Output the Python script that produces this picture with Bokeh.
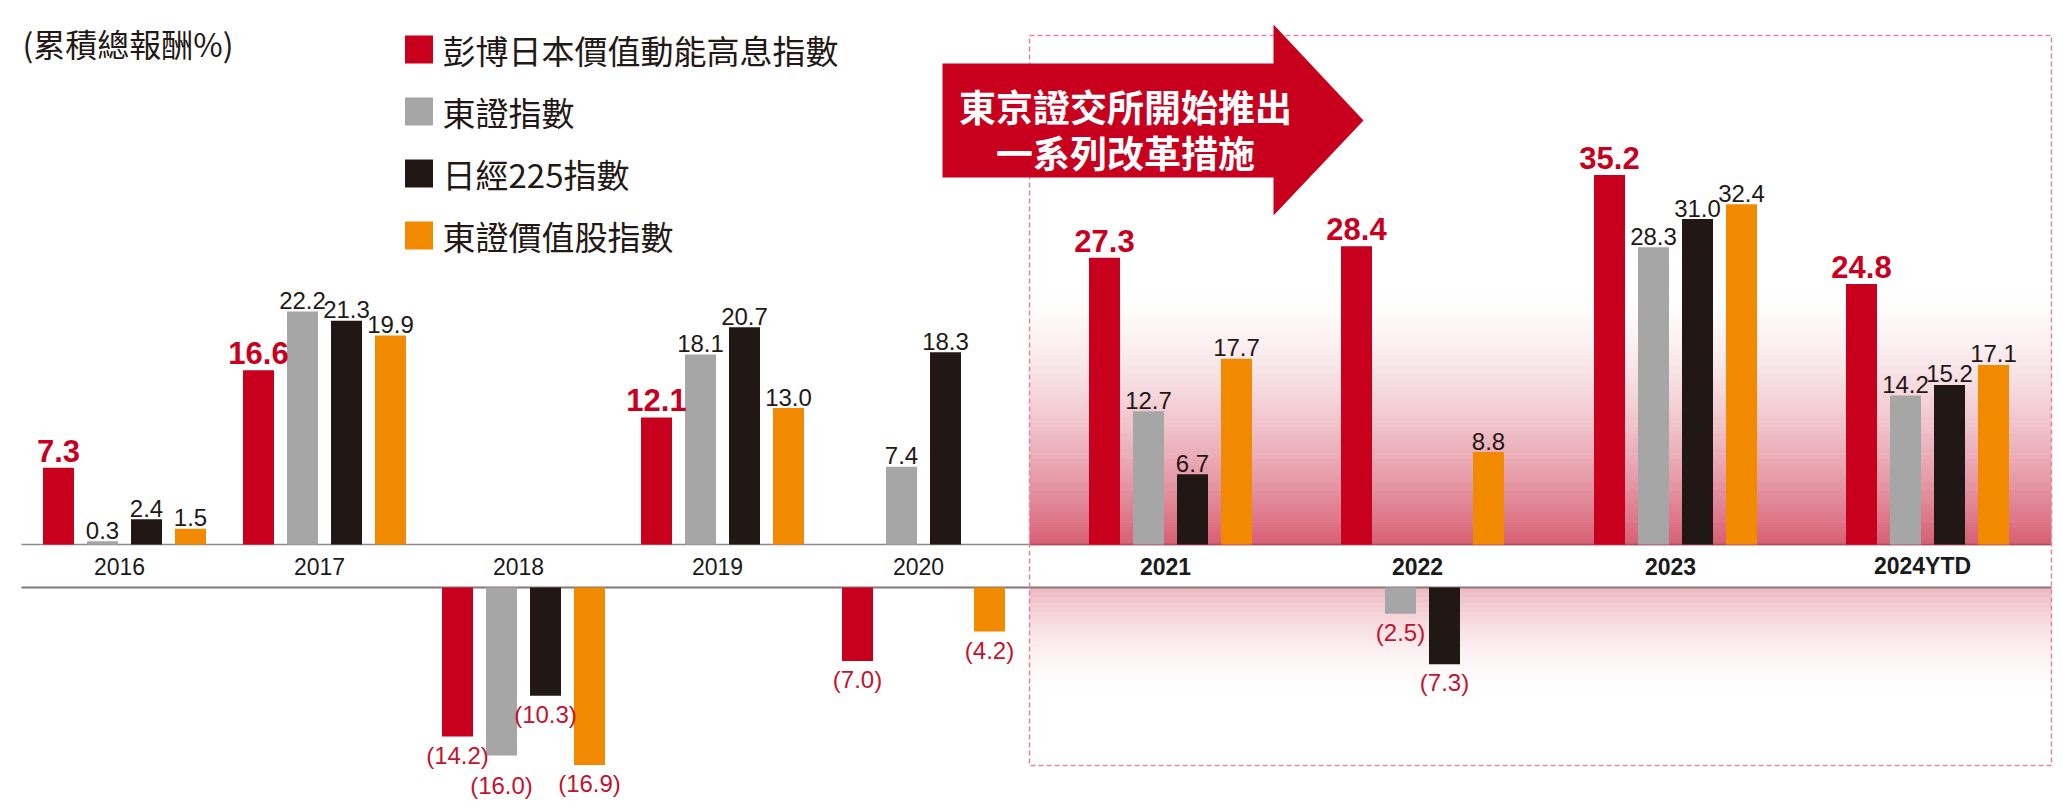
from bokeh.plotting import figure
from bokeh.models import Range1d, ColumnDataSource
from bokeh.core.properties import value
from bokeh.embed import file_html
from bokeh.resources import INLINE

# ---------------- data ----------------
years = ["2016", "2017", "2018", "2019", "2020", "2021", "2022", "2023", "2024YTD"]
highlight_years = ["2021", "2022", "2023", "2024YTD"]
series_names = ["彭博日本價值動能高息指數", "東證指數", "日經225指數", "東證價值股指數"]
bloomberg_japan = [7.3, 16.6, -14.2, 12.1, -7.0, 27.3, 28.4, 35.2, 24.8]
topix = [0.3, 22.2, -16.0, 18.1, 7.4, 12.7, -2.5, 28.3, 14.2]
nikkei225 = [2.4, 21.3, -10.3, 20.7, 18.3, 6.7, -7.3, 31.0, 15.2]
topix_value = [1.5, 19.9, -16.9, 13.0, -4.2, 17.7, 8.8, 32.4, 17.1]
y_title = "(累積總報酬%)"
arrow_lines = ["東京證交所開始推出", "一系列改革措施"]

series_values = [bloomberg_japan, topix, nikkei225, topix_value]

# ---------------- layout / style ----------------
W, H = 2060, 808
ORIGIN = 0            # page offset of the canvas
SCALE = 10.5          # px per percentage point
BASE = 544            # screen y of the zero line (positive bars)
BAND = 43             # height of the category band (px)
GAP = BAND / SCALE


def Y(sy):
    """screen y (px, from top of page) -> data y"""
    return (BASE - sy) / SCALE


GROUP_X = [124, 324, 523, 722, 923, 1170, 1422, 1675, 1927]
BAR_OFF = [-66, -22, 22, 66]
BAR_W = 31
COLORS = ["#c8001e", "#a6a6a6", "#211816", "#f18a00"]
RED = "#c8001e"
DARK = "#231815"
NUM_FONT = value("Liberation Sans")
CJK_FONT = value("Noto Sans CJK TC")
LABEL_NUDGE = {(2, 1): 11}   # extra px downwards for crowded negative labels

RECT_L, RECT_R, RECT_T, RECT_B = 1029, 2051, 35, 765

p = figure(width=W, height=H, x_range=Range1d(ORIGIN, ORIGIN + W),
           y_range=Range1d(Y(ORIGIN + H), Y(ORIGIN)),
           output_backend="svg", toolbar_location=None, min_border=0)
p.axis.visible = False
p.grid.visible = False
p.outline_line_color = None
p.background_fill_color = "white"
p.border_fill_color = "white"

# ---------------- gradient behind highlighted years ----------------
base_rgb = (205, 55, 80)


def mix(a):
    r = [round(255 * (1 - a) + c * a) for c in base_rgb]
    return "#%02x%02x%02x" % tuple(r)


g_top, g_bot, g_col = [], [], []
N = 90
s0, s1 = 282, BASE
step = (s1 - s0) / N
for k in range(N):
    t = (k + 0.5) / N
    a = 0.80 * t ** 1.6
    g_top.append(Y(s0 + k * step))
    g_bot.append(Y(s0 + (k + 1) * step + 0.6))
    g_col.append(mix(a))
s0, s1 = BASE + BAND, 700
step = (s1 - s0) / N
for k in range(N):
    t = (k + 0.5) / N
    a = 0.36 * (1 - t) ** 1.8
    g_top.append(Y(s0 + k * step - 0.6))
    g_bot.append(Y(s0 + (k + 1) * step))
    g_col.append(mix(a))
p.quad(left=RECT_L, right=RECT_R, top=g_top, bottom=g_bot, fill_color=g_col,
       line_color=None)

# category band lines
p.segment(x0=[21], y0=[0], x1=[RECT_R], y1=[0], line_color="#8a8a8a", line_width=1.5)
p.segment(x0=[RECT_L], y0=[0], x1=[RECT_R], y1=[0], line_color="#b8455c", line_width=1.5)
p.segment(x0=[21], y0=[-GAP], x1=[RECT_R], y1=[-GAP], line_color="#867777", line_width=2)

# dashed highlight frame
p.quad(left=RECT_L, right=RECT_R, top=Y(RECT_T), bottom=Y(RECT_B),
       fill_color=None, line_color="#e3879b", line_dash="5 3", line_width=1.5)

# ---------------- bars ----------------
for s, vals in enumerate(series_values):
    xs = [GROUP_X[i] + BAR_OFF[s] for i in range(len(years))]
    tops = [v if v >= 0 else -GAP for v in vals]
    bots = [0 if v >= 0 else v - GAP for v in vals]
    src = ColumnDataSource(dict(x=xs, top=tops, bottom=bots, year=years, val=vals))
    p.vbar(x="x", top="top", bottom="bottom", width=BAR_W, source=src,
           fill_color=COLORS[s], line_color=None)

# ---------------- value labels ----------------
red_big = dict(x=[], y=[], t=[])
dark_lbl = dict(x=[], y=[], t=[])
neg_lbl = dict(x=[], y=[], t=[])
for s, vals in enumerate(series_values):
    for i, v in enumerate(vals):
        x = GROUP_X[i] + BAR_OFF[s]
        if v >= 0:
            if s == 0:
                red_big["x"].append(x); red_big["y"].append(v + 17 / SCALE)
                red_big["t"].append(f"{v:.1f}")
            else:
                dark_lbl["x"].append(x); dark_lbl["y"].append(v + 11 / SCALE)
                dark_lbl["t"].append(f"{v:.1f}")
        else:
            nudge = LABEL_NUDGE.get((i, s), 0)
            neg_lbl["x"].append(x)
            neg_lbl["y"].append(v - GAP - (5 + nudge) / SCALE)
            neg_lbl["t"].append(f"({abs(v):.1f})")

p.text(x="x", y="y", text="t", source=ColumnDataSource(red_big),
       text_font=NUM_FONT, text_font_style="bold", text_font_size="31px",
       text_color=RED, text_align="center", text_baseline="alphabetic")
p.text(x="x", y="y", text="t", source=ColumnDataSource(dark_lbl),
       text_font=NUM_FONT, text_font_size="24px",
       text_color=DARK, text_align="center", text_baseline="alphabetic")
p.text(x="x", y="y", text="t", source=ColumnDataSource(neg_lbl),
       text_font=NUM_FONT, text_font_size="24px",
       text_color="#c4122f", text_align="center", text_baseline="top")

# ---------------- category labels ----------------
reg = dict(x=[], y=[], t=[])
bold = dict(x=[], y=[], t=[])
for i, yr in enumerate(years):
    d = bold if yr in highlight_years else reg
    d["x"].append(GROUP_X[i] - 5)
    d["y"].append(-GAP / 2)
    d["t"].append(yr)
p.text(x="x", y="y", text="t", source=ColumnDataSource(reg),
       text_font=NUM_FONT, text_font_size="23px", text_color="#1a1a1a",
       text_align="center", text_baseline="middle")
p.text(x="x", y="y", text="t", source=ColumnDataSource(bold),
       text_font=NUM_FONT, text_font_style="bold", text_font_size="23px",
       text_color="#1a1a1a", text_align="center", text_baseline="middle")

# ---------------- title ----------------
p.text(x=[22], y=[Y(42)], text=[y_title], text_font=CJK_FONT,
       text_font_size="32px", text_color=DARK, text_align="left",
       text_baseline="middle")

# ---------------- legend ----------------
LEG_Y = [49, 111, 173, 235]
p.scatter(x=[418.5] * 4, y=[Y(v) for v in LEG_Y], marker="square", size=28,
          fill_color=COLORS, line_color=None)
p.text(x=[442] * 4, y=[Y(v) for v in LEG_Y], text=series_names,
       text_font=CJK_FONT, text_font_size="33px", text_color=DARK,
       text_align="left", text_baseline="middle")

# ---------------- arrow ----------------
ax = [942, 1273, 1273, 1363, 1273, 1273, 942]
ay = [63, 63, 24, 120, 215, 177, 177]
p.patch(x=ax, y=[Y(v) for v in ay], fill_color="#c8001e", line_color=None)
p.text(x=[1125, 1125], y=[Y(105), Y(151)], text=arrow_lines,
       text_font=CJK_FONT, text_font_style="bold", text_font_size="37px",
       text_color="white", text_align="center", text_baseline="middle")

open("out.html", "w").write(file_html(p, INLINE))
